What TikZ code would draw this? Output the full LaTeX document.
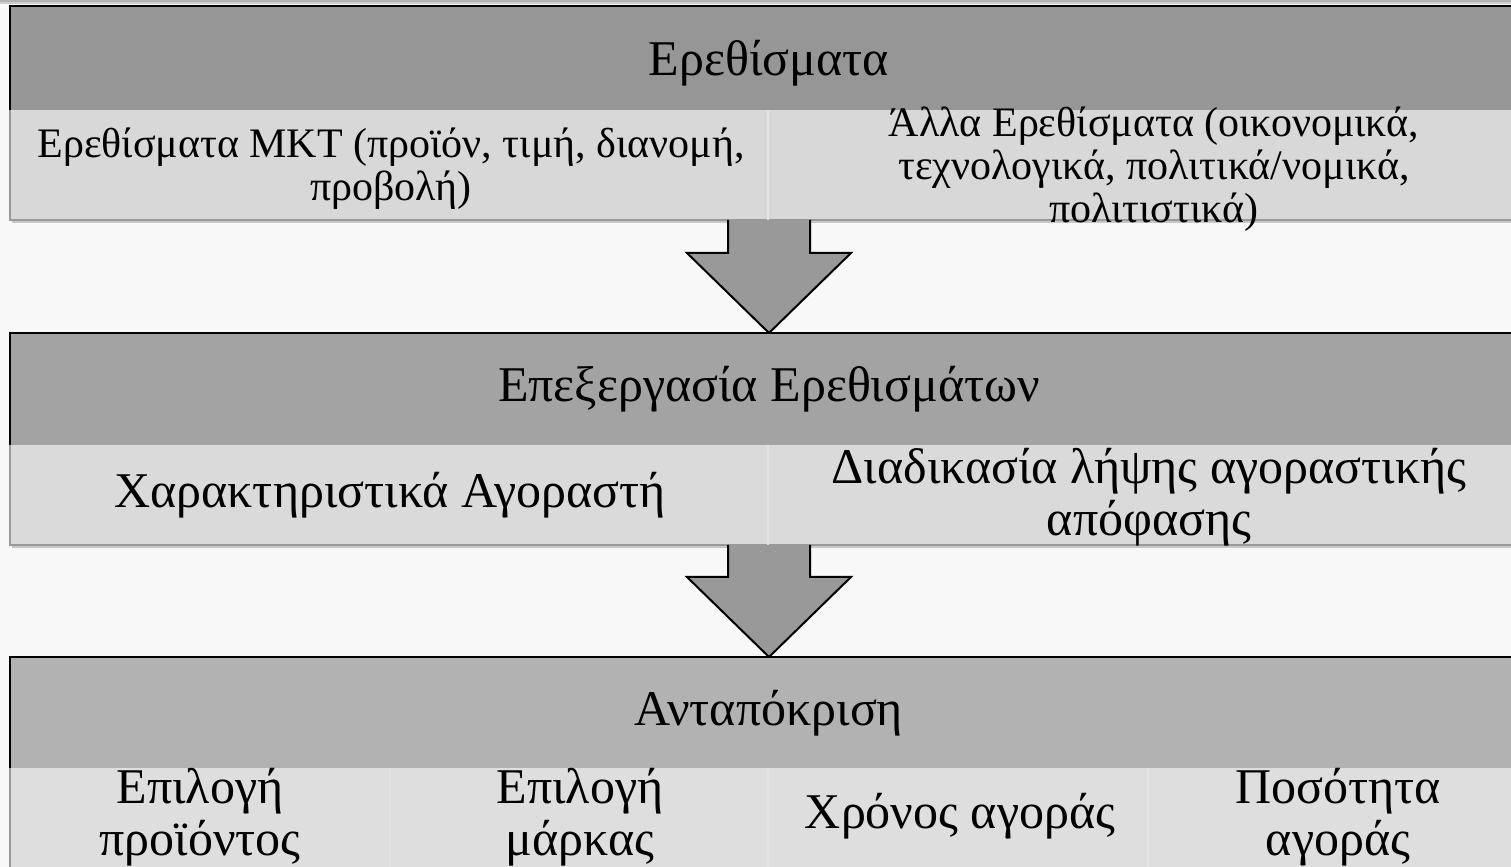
\documentclass[tikz,border=0pt]{standalone}
\usepackage{fontspec}
\setmainfont{Liberation Serif}
\usetikzlibrary{calc}
\definecolor{Page}{HTML}{F8F8F8}
\definecolor{HeadA}{HTML}{969696}
\definecolor{HeadB}{HTML}{A3A3A3}
\definecolor{HeadC}{HTML}{B2B2B2}
\definecolor{RowA}{HTML}{D8D8D8}
\definecolor{RowB}{HTML}{DADADA}
\definecolor{RowC}{HTML}{DEDEDE}
\definecolor{Split}{HTML}{E3E3E3}
\definecolor{Shade}{HTML}{C6C6C6}
\definecolor{Arrow}{HTML}{999999}

\tikzset{
  headtext/.style={font=\fontsize{25}{26}\selectfont, align=center},
  celltext/.style={font=\fontsize{25}{26}\selectfont, align=center},
  smalltext/.style={font=\fontsize{21}{21.5}\selectfont, align=center},
  border/.style={black, line width=1pt},
  rim/.style={gray!80, line width=0.6pt},
  shade/.style={Shade, line width=1.5pt},
  split/.style={Split, line width=1pt},
  blockarrow/.style={fill=Arrow},
}
% block arrow: centre x, top y, shoulder y, tip y
\newcommand{\downarrowblock}[4]{%
  \fill[blockarrow] (#1-41,#2) -- (#1-41,#3) -- (#1-82,#3) -- (#1,#4)
    -- (#1+82,#3) -- (#1+41,#3) -- (#1+41,#2) -- cycle;
  \draw[border, line join=miter] (#1-41,#2) -- (#1-41,#3) -- (#1-82,#3) -- (#1,#4)
    -- (#1+82,#3) -- (#1+41,#3) -- (#1+41,#2);
}

\begin{document}
\begin{tikzpicture}[x=0.5pt,y=0.5pt]
  \useasboundingbox (0,0) rectangle (1511,867);
  \fill[Page] (0,0) rectangle (1511,867);
  \clip (0,0) rectangle (1511,867);
  \draw[gray!60, line width=0.6pt] (0,866) -- (1511,866);
  \draw[gray!40, line width=0.6pt] (0,864) -- (1511,864);

  % stimuli
  \fill[HeadA] (10,861) rectangle (1520,757);
  \fill[RowA] (10,757) rectangle (1520,647);
  \draw[shade] (12,645.5) -- (1520,645.5);
  \draw[rim] (10,757) -- (10,647) -- (1520,647);
  \draw[split] (768,757) -- (768,647);
  \draw[border] (1520,861) -- (10,861) -- (10,757);
  \node[headtext] (stim) at (769,804) {Ερεθίσματα};
  \node[smalltext] (stimmkt) at (391,698) {Ερεθίσματα MKT (προϊόν, τιμή, διανομή,\\προβολή)};
  \node[smalltext] (stimother) at (1154,698) {Άλλα Ερεθίσματα (οικονομικά,\\τεχνολογικά, πολιτικά/νομικά,\\πολιτιστικά)};

  \downarrowblock{769}{647}{614}{534}

  % processing
  \fill[HeadB] (10,534) rectangle (1520,422);
  \fill[RowB] (10,422) rectangle (1520,322);
  \draw[shade] (12,320.5) -- (1520,320.5);
  \draw[rim] (10,422) -- (10,322) -- (1520,322);
  \draw[split] (768,422) -- (768,322);
  \draw[border] (1520,534) -- (10,534) -- (10,422);
  \node[headtext] (proc) at (769,478) {Επεξεργασία Ερεθισμάτων};
  \node[celltext] (buyer) at (390,372) {Χαρακτηριστικά Αγοραστή};
  \node[celltext] (decision) at (1149,370) {Διαδικασία λήψης αγοραστικής\\απόφασης};

  \downarrowblock{769}{322}{290}{210}

  % response
  \fill[HeadC] (10,210) rectangle (1520,99);
  \fill[RowC] (10,99) rectangle (1520,-10);
  \draw[rim] (10,99) -- (10,-10);
  \foreach \sx in {390,768,1148}
    \draw[split] (\sx,99) -- (\sx,-10);
  \draw[border] (1520,210) -- (10,210) -- (10,99);
  \node[headtext] (resp) at (769,154) {Ανταπόκριση};
  \node[celltext] (product) at (200,50) {Επιλογή\\προϊόντος};
  \node[celltext] (brand) at (580,50) {Επιλογή\\μάρκας};
  \node[celltext] (timing) at (960,51) {Χρόνος αγοράς};
  \node[celltext] (amount) at (1338,50) {Ποσότητα\\αγοράς};
\end{tikzpicture}
\end{document}
